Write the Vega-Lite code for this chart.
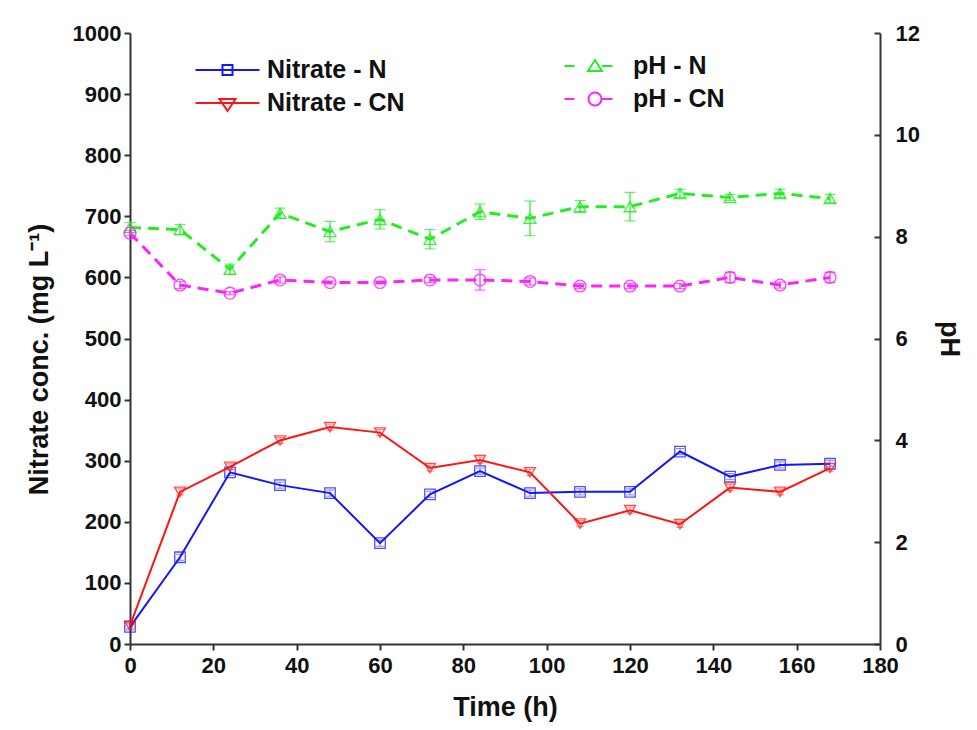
{
  "$schema": "https://vega.github.io/schema/vega-lite/v6.json",
  "width": 750,
  "height": 611,
  "autosize": {"type": "none"},
  "padding": {"left": 130, "top": 33, "right": 97, "bottom": 86},
  "background": "white",
  "config": {
    "view": {"stroke": null},
    "font": "Liberation Sans",
    "axis": {
      "grid": false,
      "domainColor": "#333333",
      "domainWidth": 2,
      "tickColor": "#333333",
      "tickWidth": 2,
      "tickSize": 6,
      "labelFont": "Liberation Sans",
      "labelFontWeight": "bold",
      "labelFontSize": 22,
      "labelColor": "#111111",
      "labelPadding": 3,
      "titleFont": "Liberation Sans",
      "titleFontWeight": "bold",
      "titleFontSize": 27,
      "titleColor": "#111111"
    },
    "legend": {
      "labelFont": "Liberation Sans",
      "labelFontWeight": "bold",
      "labelFontSize": 25,
      "labelColor": "#111111",
      "labelLimit": 400,
      "padding": 0,
      "orient": "none",
      "title": null,
      "symbolSize": 400,
      "symbolFillColor": "transparent",
      "symbolStrokeWidth": 2,
      "symbolOpacity": 1
    }
  },
  "data": {
    "values": [
      {"t": 0, "s": "Nitrate - N", "g": "n", "v": 28, "lo": 23, "hi": 33},
      {"t": 12, "s": "Nitrate - N", "g": "n", "v": 142, "lo": 137, "hi": 147},
      {"t": 24, "s": "Nitrate - N", "g": "n", "v": 281, "lo": 276, "hi": 286},
      {"t": 36, "s": "Nitrate - N", "g": "n", "v": 260, "lo": 255, "hi": 265},
      {"t": 48, "s": "Nitrate - N", "g": "n", "v": 247, "lo": 242, "hi": 252},
      {"t": 60, "s": "Nitrate - N", "g": "n", "v": 165, "lo": 160, "hi": 170},
      {"t": 72, "s": "Nitrate - N", "g": "n", "v": 245, "lo": 240, "hi": 250},
      {"t": 84, "s": "Nitrate - N", "g": "n", "v": 283, "lo": 278, "hi": 288},
      {"t": 96, "s": "Nitrate - N", "g": "n", "v": 247, "lo": 242, "hi": 252},
      {"t": 108, "s": "Nitrate - N", "g": "n", "v": 249, "lo": 244, "hi": 254},
      {"t": 120, "s": "Nitrate - N", "g": "n", "v": 249, "lo": 244, "hi": 254},
      {"t": 132, "s": "Nitrate - N", "g": "n", "v": 315, "lo": 310, "hi": 320},
      {"t": 144, "s": "Nitrate - N", "g": "n", "v": 274, "lo": 269, "hi": 279},
      {"t": 156, "s": "Nitrate - N", "g": "n", "v": 293, "lo": 288, "hi": 298},
      {"t": 168, "s": "Nitrate - N", "g": "n", "v": 295, "lo": 290, "hi": 300},
      {"t": 0, "s": "Nitrate - CN", "g": "n", "v": 30, "lo": 25, "hi": 35},
      {"t": 12, "s": "Nitrate - CN", "g": "n", "v": 249, "lo": 244, "hi": 254},
      {"t": 24, "s": "Nitrate - CN", "g": "n", "v": 290, "lo": 285, "hi": 295},
      {"t": 36, "s": "Nitrate - CN", "g": "n", "v": 333, "lo": 328, "hi": 338},
      {"t": 48, "s": "Nitrate - CN", "g": "n", "v": 355, "lo": 350, "hi": 360},
      {"t": 60, "s": "Nitrate - CN", "g": "n", "v": 346, "lo": 341, "hi": 351},
      {"t": 72, "s": "Nitrate - CN", "g": "n", "v": 288, "lo": 283, "hi": 293},
      {"t": 84, "s": "Nitrate - CN", "g": "n", "v": 301, "lo": 296, "hi": 306},
      {"t": 96, "s": "Nitrate - CN", "g": "n", "v": 281, "lo": 276, "hi": 286},
      {"t": 108, "s": "Nitrate - CN", "g": "n", "v": 197, "lo": 192, "hi": 202},
      {"t": 120, "s": "Nitrate - CN", "g": "n", "v": 219, "lo": 214, "hi": 224},
      {"t": 132, "s": "Nitrate - CN", "g": "n", "v": 196, "lo": 191, "hi": 201},
      {"t": 144, "s": "Nitrate - CN", "g": "n", "v": 256, "lo": 251, "hi": 261},
      {"t": 156, "s": "Nitrate - CN", "g": "n", "v": 249, "lo": 244, "hi": 254},
      {"t": 168, "s": "Nitrate - CN", "g": "n", "v": 288, "lo": 283, "hi": 293},
      {"t": 0, "s": "pH - N", "g": "p", "v": 8.18, "lo": 8.08, "hi": 8.28},
      {"t": 12, "s": "pH - N", "g": "p", "v": 8.14, "lo": 8.04, "hi": 8.24},
      {"t": 24, "s": "pH - N", "g": "p", "v": 7.36, "lo": 7.26, "hi": 7.46},
      {"t": 36, "s": "pH - N", "g": "p", "v": 8.46, "lo": 8.36, "hi": 8.56},
      {"t": 48, "s": "pH - N", "g": "p", "v": 8.10, "lo": 7.90, "hi": 8.30},
      {"t": 60, "s": "pH - N", "g": "p", "v": 8.34, "lo": 8.15, "hi": 8.53},
      {"t": 72, "s": "pH - N", "g": "p", "v": 7.95, "lo": 7.76, "hi": 8.14},
      {"t": 84, "s": "pH - N", "g": "p", "v": 8.49, "lo": 8.34, "hi": 8.64},
      {"t": 96, "s": "pH - N", "g": "p", "v": 8.36, "lo": 8.02, "hi": 8.70},
      {"t": 108, "s": "pH - N", "g": "p", "v": 8.59, "lo": 8.47, "hi": 8.71},
      {"t": 120, "s": "pH - N", "g": "p", "v": 8.59, "lo": 8.31, "hi": 8.87},
      {"t": 132, "s": "pH - N", "g": "p", "v": 8.85, "lo": 8.77, "hi": 8.93},
      {"t": 144, "s": "pH - N", "g": "p", "v": 8.77, "lo": 8.71, "hi": 8.83},
      {"t": 156, "s": "pH - N", "g": "p", "v": 8.85, "lo": 8.77, "hi": 8.93},
      {"t": 168, "s": "pH - N", "g": "p", "v": 8.75, "lo": 8.67, "hi": 8.83},
      {"t": 0, "s": "pH - CN", "g": "p", "v": 8.07, "lo": 8.02, "hi": 8.12},
      {"t": 12, "s": "pH - CN", "g": "p", "v": 7.05, "lo": 6.98, "hi": 7.12},
      {"t": 24, "s": "pH - CN", "g": "p", "v": 6.89, "lo": 6.86, "hi": 6.92},
      {"t": 36, "s": "pH - CN", "g": "p", "v": 7.15, "lo": 7.09, "hi": 7.21},
      {"t": 48, "s": "pH - CN", "g": "p", "v": 7.10, "lo": 7.07, "hi": 7.13},
      {"t": 60, "s": "pH - CN", "g": "p", "v": 7.10, "lo": 7.07, "hi": 7.13},
      {"t": 72, "s": "pH - CN", "g": "p", "v": 7.15, "lo": 7.10, "hi": 7.20},
      {"t": 84, "s": "pH - CN", "g": "p", "v": 7.15, "lo": 6.95, "hi": 7.35},
      {"t": 96, "s": "pH - CN", "g": "p", "v": 7.12, "lo": 7.05, "hi": 7.19},
      {"t": 108, "s": "pH - CN", "g": "p", "v": 7.03, "lo": 6.98, "hi": 7.08},
      {"t": 120, "s": "pH - CN", "g": "p", "v": 7.03, "lo": 6.98, "hi": 7.08},
      {"t": 132, "s": "pH - CN", "g": "p", "v": 7.03, "lo": 6.98, "hi": 7.08},
      {"t": 144, "s": "pH - CN", "g": "p", "v": 7.20, "lo": 7.10, "hi": 7.30},
      {"t": 156, "s": "pH - CN", "g": "p", "v": 7.05, "lo": 6.99, "hi": 7.11},
      {"t": 168, "s": "pH - CN", "g": "p", "v": 7.20, "lo": 7.10, "hi": 7.30}
    ]
  },
  "encoding": {
    "x": {
      "field": "t",
      "type": "quantitative",
      "scale": {"domain": [0, 180], "nice": false, "zero": false},
      "axis": {"values": [0, 20, 40, 60, 80, 100, 120, 140, 160, 180], "title": "Time (h)", "titlePadding": 18, "labelPadding": 5, "labelFlush": false}
    }
  },
  "layer": [
    {
      "transform": [{"filter": "datum.g === 'n'"}],
      "layer": [
        {
          "transform": [{"filter": "datum.s === 'Nitrate - N'"}],
          "layer": [
            {
              "mark": {"type": "line", "color": "#1414ff", "strokeWidth": 2},
              "encoding": {"y": {"field": "v", "type": "quantitative", "scale": {"domain": [0, 1000]}, "axis": {"orient": "left", "format": "d", "values": [0, 100, 200, 300, 400, 500, 600, 700, 800, 900, 1000], "title": "Nitrate conc. (mg L⁻¹)", "titlePadding": 19, "titleY": 326, "labelFlush": false}}}
            },
            {
              "mark": {"type": "errorbar", "color": "#1414ff", "opacity": 0.5, "ticks": {"size": 8}, "thickness": 1},
              "encoding": {
                "y": {"field": "lo", "type": "quantitative", "scale": {"domain": [0, 1000]}, "axis": {"orient": "left", "format": "d", "values": [0, 100, 200, 300, 400, 500, 600, 700, 800, 900, 1000], "title": "Nitrate conc. (mg L⁻¹)", "titlePadding": 19, "titleY": 326, "labelFlush": false}},
                "y2": {"field": "hi"}
              }
            },
            {
              "mark": {"type": "point", "shape": "square", "filled": false, "size": 110, "strokeWidth": 1.3, "opacity": 0.75},
              "encoding": {
                "y": {"field": "v", "type": "quantitative", "scale": {"domain": [0, 1000]}, "axis": {"orient": "left", "format": "d", "values": [0, 100, 200, 300, 400, 500, 600, 700, 800, 900, 1000], "title": "Nitrate conc. (mg L⁻¹)", "titlePadding": 19, "titleY": 326, "labelFlush": false}},
                "color": {"datum": "Nitrate - N", "type": "nominal", "scale": {"range": ["#1414ff"]}, "legend": {"legendX": 85, "legendY": 24.5, "labelOffset": 27, "symbolType": "M-3.2,0H3.2M-0.5,-0.5H0.5V0.5H-0.5Z", "symbolStrokeColor": "#1414ff"}}
              }
            }
          ]
        },
        {
          "transform": [{"filter": "datum.s === 'Nitrate - CN'"}],
          "layer": [
            {
              "mark": {"type": "line", "color": "#ff1414", "strokeWidth": 2},
              "encoding": {"y": {"field": "v", "type": "quantitative", "scale": {"domain": [0, 1000]}, "axis": {"orient": "left", "format": "d", "values": [0, 100, 200, 300, 400, 500, 600, 700, 800, 900, 1000], "title": "Nitrate conc. (mg L⁻¹)", "titlePadding": 19, "titleY": 326, "labelFlush": false}}}
            },
            {
              "mark": {"type": "errorbar", "color": "#ff1414", "opacity": 0.5, "ticks": {"size": 8}, "thickness": 1},
              "encoding": {
                "y": {"field": "lo", "type": "quantitative", "scale": {"domain": [0, 1000]}, "axis": {"orient": "left", "format": "d", "values": [0, 100, 200, 300, 400, 500, 600, 700, 800, 900, 1000], "title": "Nitrate conc. (mg L⁻¹)", "titlePadding": 19, "titleY": 326, "labelFlush": false}},
                "y2": {"field": "hi"}
              }
            },
            {
              "mark": {"type": "point", "shape": "triangle-down", "filled": false, "size": 120, "strokeWidth": 1.3, "opacity": 0.75},
              "encoding": {
                "y": {"field": "v", "type": "quantitative", "scale": {"domain": [0, 1000]}, "axis": {"orient": "left", "format": "d", "values": [0, 100, 200, 300, 400, 500, 600, 700, 800, 900, 1000], "title": "Nitrate conc. (mg L⁻¹)", "titlePadding": 19, "titleY": 326, "labelFlush": false}},
                "color": {"datum": "Nitrate - CN", "type": "nominal", "scale": {"range": ["#ff1414"]}, "legend": {"legendX": 85, "legendY": 57.5, "labelOffset": 27, "symbolType": "M-3.2,0H3.2M-0.8,-0.4H0.8L0,0.8Z", "symbolStrokeColor": "#ff1414"}}
              }
            }
          ]
        }
      ],
      "resolve": {"scale": {"color": "independent"}}
    },
    {
      "transform": [{"filter": "datum.g === 'p'"}],
      "layer": [
        {
          "transform": [{"filter": "datum.s === 'pH - N'"}],
          "layer": [
            {
              "mark": {"type": "line", "color": "#22ee22", "strokeWidth": 3, "strokeDash": [11, 7]},
              "encoding": {"y": {"field": "v", "type": "quantitative", "scale": {"domain": [0, 12]}, "axis": {"orient": "right", "values": [0, 2, 4, 6, 8, 10, 12], "title": "pH", "titlePadding": 15, "tickSize": -6, "labelPadding": 21, "labelFlush": false}}}
            },
            {
              "mark": {"type": "errorbar", "color": "#22ee22", "ticks": {"size": 11}, "thickness": 1.2},
              "encoding": {
                "y": {"field": "lo", "type": "quantitative", "scale": {"domain": [0, 12]}, "axis": {"orient": "right", "values": [0, 2, 4, 6, 8, 10, 12], "title": "pH", "titlePadding": 15, "tickSize": -6, "labelPadding": 21, "labelFlush": false}},
                "y2": {"field": "hi"}
              }
            },
            {
              "mark": {"type": "point", "shape": "triangle-up", "filled": false, "size": 140, "strokeWidth": 1.3, "opacity": 0.85},
              "encoding": {
                "y": {"field": "v", "type": "quantitative", "scale": {"domain": [0, 12]}, "axis": {"orient": "right", "values": [0, 2, 4, 6, 8, 10, 12], "title": "pH", "titlePadding": 15, "tickSize": -6, "labelPadding": 21, "labelFlush": false}},
                "color": {"datum": "pH - N", "type": "nominal", "scale": {"range": ["#22ee22"]}, "legend": {"legendX": 446, "legendY": 20.5, "labelOffset": 32, "symbolType": "M-2.4,0H-1.4M0.65,-0.6L1.35,0.5H-0.05ZM1.35,0H2.4", "symbolStrokeColor": "#22ee22"}}
              }
            }
          ]
        },
        {
          "transform": [{"filter": "datum.s === 'pH - CN'"}],
          "layer": [
            {
              "mark": {"type": "line", "color": "#ff22ff", "strokeWidth": 3, "strokeDash": [11, 7]},
              "encoding": {"y": {"field": "v", "type": "quantitative", "scale": {"domain": [0, 12]}, "axis": {"orient": "right", "values": [0, 2, 4, 6, 8, 10, 12], "title": "pH", "titlePadding": 15, "tickSize": -6, "labelPadding": 21, "labelFlush": false}}}
            },
            {
              "mark": {"type": "errorbar", "color": "#ff22ff", "ticks": {"size": 11}, "thickness": 1.2},
              "encoding": {
                "y": {"field": "lo", "type": "quantitative", "scale": {"domain": [0, 12]}, "axis": {"orient": "right", "values": [0, 2, 4, 6, 8, 10, 12], "title": "pH", "titlePadding": 15, "tickSize": -6, "labelPadding": 21, "labelFlush": false}},
                "y2": {"field": "hi"}
              }
            },
            {
              "mark": {"type": "point", "shape": "circle", "filled": false, "size": 140, "strokeWidth": 1.3, "opacity": 0.85},
              "encoding": {
                "y": {"field": "v", "type": "quantitative", "scale": {"domain": [0, 12]}, "axis": {"orient": "right", "values": [0, 2, 4, 6, 8, 10, 12], "title": "pH", "titlePadding": 15, "tickSize": -6, "labelPadding": 21, "labelFlush": false}},
                "color": {"datum": "pH - CN", "type": "nominal", "scale": {"range": ["#ff22ff"]}, "legend": {"legendX": 446, "legendY": 53.5, "labelOffset": 32, "symbolType": "M-2.4,0H-1.4M0,0A0.65,0.65 0 1,1 1.3,0A0.65,0.65 0 1,1 0,0M1.3,0H2.4", "symbolStrokeColor": "#ff22ff"}}
              }
            }
          ]
        }
      ],
      "resolve": {"scale": {"color": "independent"}}
    }
  ],
  "resolve": {"scale": {"y": "independent", "color": "independent"}}
}
